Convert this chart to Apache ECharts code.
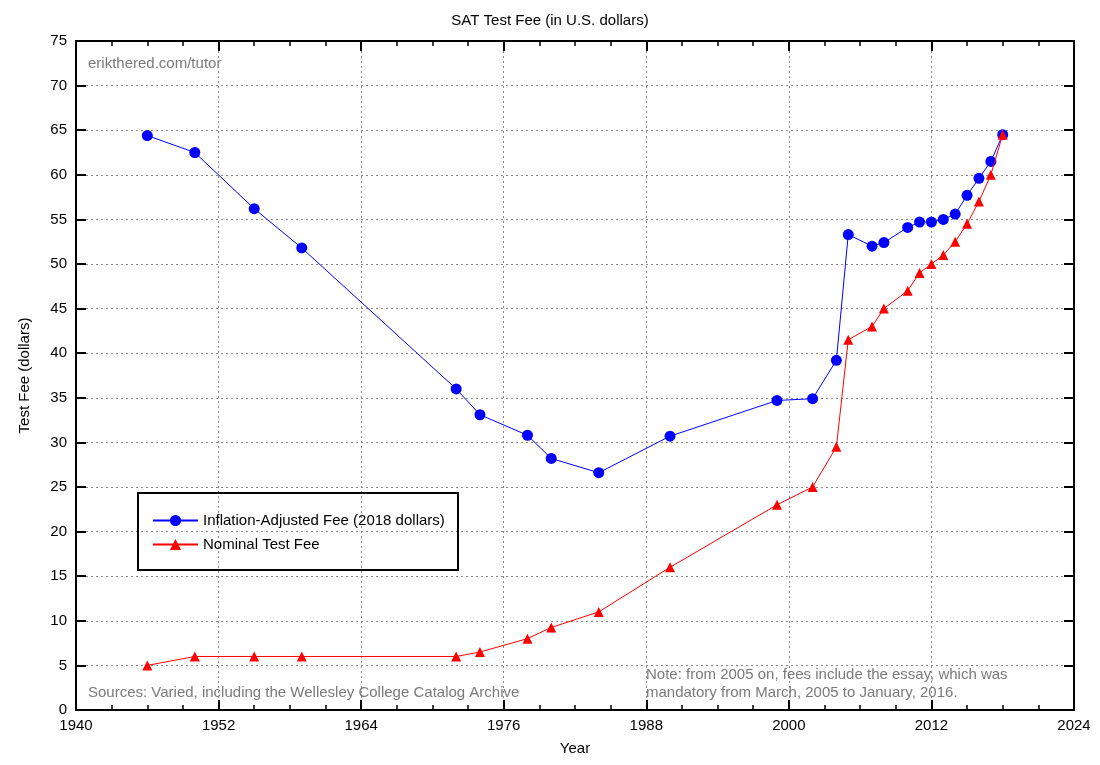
<!DOCTYPE html>
<html>
<head>
<meta charset="utf-8">
<script src="https://cdn.jsdelivr.net/npm/echarts@6/dist/echarts.min.js"></script>
<style>html,body{margin:0;padding:0;background:#fff}#c{width:1100px;height:765px}</style>
</head>
<body>
<div id="c"></div>
<script>
const years = [1946, 1950, 1955, 1959, 1972, 1974, 1978, 1980, 1984, 1990, 1999, 2002, 2004, 2005, 2007, 2008, 2010, 2011, 2012, 2013, 2014, 2015, 2016, 2017, 2018];
const adjustedFee = [64.4, 62.5, 56.2, 51.8, 36.0, 33.1, 30.8, 28.2, 26.6, 30.7, 34.7, 34.9, 39.2, 53.3, 52.0, 52.4, 54.1, 54.7, 54.7, 55.0, 55.6, 57.7, 59.6, 61.5, 64.5];
const nominalFee = [5, 6, 6, 6, 6, 6.5, 8, 9.25, 11, 16, 23, 25, 29.5, 41.5, 43, 45, 47, 49, 50, 51, 52.5, 54.5, 57, 60, 64.5];
const xTicks = [1940, 1952, 1964, 1976, 1988, 2000, 2012, 2024];
const yTicks = [0, 5, 10, 15, 20, 25, 30, 35, 40, 45, 50, 55, 60, 65, 70, 75];

const FONT = 'Liberation Sans, Arial, Helvetica, sans-serif';
const FS = 15;
const chart = echarts.init(document.getElementById('c'), null, {renderer: 'canvas'});

const pair = (xs, ys) => xs.map((x, i) => [x, ys[i]]);

const baseX = {
  type: 'value', min: xTicks[0], max: xTicks[xTicks.length - 1], interval: 12,
  axisLine: {show: true, onZero: false, lineStyle: {color: '#000', width: 2}},
  axisTick: {show: true, inside: true, length: 10, lineStyle: {color: '#000', width: 2}},
  minorTick: {show: true, splitNumber: 4, length: 5, lineStyle: {color: '#000', width: 1.5}},
};
const baseY = {
  type: 'value', min: yTicks[0], max: yTicks[yTicks.length - 1], interval: 5,
  axisLine: {show: true, onZero: false, lineStyle: {color: '#000', width: 2}},
  axisTick: {show: true, inside: true, length: 10, lineStyle: {color: '#000', width: 2}},
};

chart.setOption({
  animation: false,
  backgroundColor: '#fff',
  title: {
    text: 'SAT Test Fee (in U.S. dollars)', left: 'center', top: 8,
    textStyle: {fontFamily: FONT, fontSize: FS, fontWeight: 'normal', color: '#000'}
  },
  grid: {left: 76, right: 26, top: 41, bottom: 55, containLabel: false},
  xAxis: [
    Object.assign({}, baseX, {
      position: 'bottom',
      name: 'Year', nameLocation: 'middle', nameGap: 31,
      nameTextStyle: {fontFamily: FONT, fontSize: FS, color: '#000'},
      axisLabel: {fontFamily: FONT, fontSize: FS, color: '#000', margin: 8, formatter: v => String(v)},
      splitLine: {show: true, lineStyle: {color: '#888', type: [2, 3], width: 1}}
    }),
    Object.assign({}, baseX, {
      position: 'top', axisLabel: {show: false}, splitLine: {show: false}
    })
  ],
  yAxis: [
    Object.assign({}, baseY, {
      position: 'left',
      name: 'Test Fee (dollars)', nameLocation: 'middle', nameGap: 44,
      nameTextStyle: {fontFamily: FONT, fontSize: FS, color: '#000'},
      axisLabel: {fontFamily: FONT, fontSize: FS, color: '#000', margin: 9},
      splitLine: {show: true, lineStyle: {color: '#888', type: [2, 3], width: 1}}
    }),
    Object.assign({}, baseY, {
      position: 'right', axisLabel: {show: false}, splitLine: {show: false}
    })
  ],
  legend: {
    left: 147, top: 508, orient: 'vertical',
    itemWidth: 45, itemHeight: 14, itemGap: 9,
    textStyle: {fontFamily: FONT, fontSize: FS, color: '#000'},
    data: ['Inflation-Adjusted Fee (2018 dollars)', 'Nominal Test Fee']
  },
  graphic: [
    {type: 'rect', left: 137, top: 492, shape: {width: 320, height: 77},
     style: {fill: 'rgba(0,0,0,0)', stroke: '#000', lineWidth: 2}, z: 100},
    {type: 'text', left: 88, top: 56,
     style: {text: 'erikthered.com/tutor', font: FS + 'px ' + FONT, fill: '#7a7a7a'}, z: 100},
    {type: 'text', left: 88, top: 685,
     style: {text: 'Sources: Varied, including the Wellesley College Catalog Archive', font: FS + 'px ' + FONT, fill: '#7a7a7a'}, z: 100},
    {type: 'text', left: 646, top: 666,
     style: {text: 'Note: from 2005 on, fees include the essay, which was\nmandatory from March, 2005 to January, 2016.', font: FS + 'px ' + FONT, fill: '#7a7a7a', lineHeight: 18}, z: 100}
  ],
  series: [
    {
      name: 'Inflation-Adjusted Fee (2018 dollars)', type: 'line',
      data: pair(years, adjustedFee),
      symbol: 'circle', symbolSize: 11,
      lineStyle: {color: '#0000ff', width: 1},
      itemStyle: {color: '#0000ff'},
      z: 3
    },
    {
      name: 'Nominal Test Fee', type: 'line',
      data: pair(years, nominalFee),
      symbol: 'triangle', symbolSize: 10,
      lineStyle: {color: '#ff0000', width: 1},
      itemStyle: {color: '#ff0000'},
      z: 4
    }
  ]
});
</script>
</body>
</html>
